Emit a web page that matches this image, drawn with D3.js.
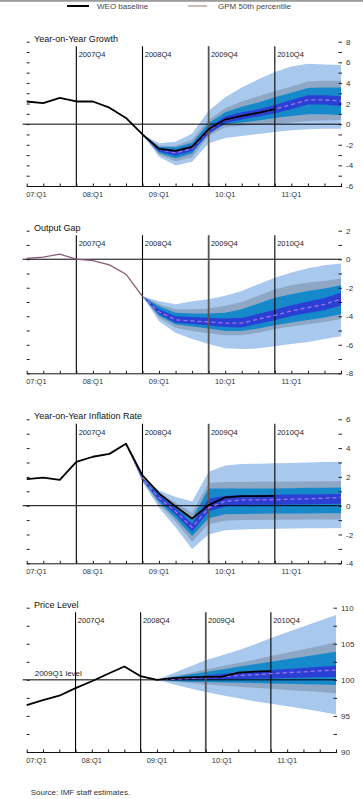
<!DOCTYPE html>
<html>
<head>
<meta charset="utf-8">
<script src="https://cdn.jsdelivr.net/npm/d3@7"></script>
<style>
  body { margin: 0; background: #fff; }
  svg { display: block; font-family: "Liberation Sans", Arial, sans-serif; }
</style>
</head>
<body>
<div id="chart"></div>
<script>
// Quarters and labels
const quarters = ["2007Q1","2007Q2","2007Q3","2007Q4","2008Q1","2008Q2","2008Q3","2008Q4",
  "2009Q1","2009Q2","2009Q3","2009Q4","2010Q1","2010Q2","2010Q3","2010Q4",
  "2011Q1","2011Q2","2011Q3","2011Q4"];
const yearQuarters = ["2007Q1","2008Q1","2009Q1","2010Q1","2011Q1"];
const yearLabels = ["07:Q1","08:Q1","09:Q1","10:Q1","11:Q1"];
const markerQuarters = ["2007Q4","2008Q4","2009Q4","2010Q4"];

// Year-on-year growth (WEO from 2007Q1, fan from 2008Q4)
const growthWeo = [2.2, 2.05, 2.55, 2.2, 2.2, 1.6, 0.6, -1.0, -2.4, -2.6, -2.2, -0.5, 0.45, 0.8, 1.1, 1.45];
const growthMed = [-1.0, -2.45, -2.8, -2.35, -0.6, 0.4, 0.8, 1.1, 1.45, 1.9, 2.35, 2.35, 2.25];
const growthHi90 = [-1.0, -1.85, -1.7, -0.9, 1.3, 2.6, 3.55, 4.35, 5.05, 5.6, 5.85, 5.8, 5.75];
const growthLo90 = [-1.0, -3.15, -4.0, -3.65, -1.85, -1.35, -1.15, -0.95, -0.75, -0.6, -0.5, -0.45, -0.45];
const growthHi70 = [-1.0, -2.1, -2.1, -1.5, 0.4, 1.55, 2.2, 2.7, 3.2, 3.65, 4.15, 4.2, 4.2];
const growthLo70 = [-1.0, -2.95, -3.6, -3.2, -1.15, -0.3, -0.15, -0.05, 0.05, 0.15, 0.3, 0.35, 0.4];
const growthHi50 = [-1.0, -2.2, -2.25, -1.8, 0.1, 1.15, 1.7, 2.1, 2.6, 3.05, 3.5, 3.55, 3.55];
const growthLo50 = [-1.0, -2.8, -3.3, -2.85, -0.85, 0.0, 0.15, 0.35, 0.6, 0.8, 0.95, 0.95, 0.9];
const growthHi30 = [-1.0, -2.3, -2.5, -2.05, -0.3, 0.75, 1.15, 1.45, 1.85, 2.35, 2.8, 2.8, 2.7];
const growthLo30 = [-1.0, -2.65, -3.05, -2.6, -0.95, 0.1, 0.45, 0.75, 1.05, 1.45, 1.9, 1.9, 1.75];

// Output gap (GPM history from 2007Q1, fan from 2008Q4)
const gapHist = [0.05, 0.15, 0.35, 0.0, -0.1, -0.4, -1.05, -2.6];
const gapMed = [-2.6, -3.7, -4.25, -4.33, -4.4, -4.48, -4.48, -4.2, -3.93, -3.62, -3.39, -3.16, -2.8];
const gapHi90 = [-2.6, -2.95, -3.15, -2.95, -2.8, -2.57, -2.22, -1.75, -1.3, -0.93, -0.63, -0.42, -0.3];
const gapLo90 = [-2.6, -4.35, -5.15, -5.6, -5.95, -6.25, -6.3, -6.25, -6.1, -5.95, -5.8, -5.6, -5.4];
const gapHi70 = [-2.6, -3.15, -3.5, -3.5, -3.45, -3.27, -3.0, -2.57, -2.1, -1.82, -1.64, -1.52, -1.36];
const gapLo70 = [-2.6, -4.1, -4.8, -5.03, -5.2, -5.33, -5.33, -5.15, -4.9, -4.72, -4.56, -4.4, -4.2];
const gapHi50 = [-2.6, -3.3, -3.75, -3.8, -3.8, -3.75, -3.5, -3.1, -2.7, -2.45, -2.22, -2.06, -1.82];
const gapLo50 = [-2.6, -3.97, -4.56, -4.72, -4.86, -5.03, -5.03, -4.86, -4.63, -4.44, -4.26, -4.09, -3.86];
const gapHi30 = [-2.6, -3.5, -4.0, -4.05, -4.1, -4.15, -4.12, -3.85, -3.55, -3.22, -2.97, -2.72, -2.35];
const gapLo30 = [-2.6, -3.85, -4.45, -4.55, -4.65, -4.75, -4.78, -4.52, -4.28, -3.98, -3.78, -3.58, -3.25];

// Year-on-year inflation (fan from 2008Q3)
const inflWeo = [1.85, 1.95, 1.8, 3.05, 3.4, 3.6, 4.3, 2.1, 0.85, -0.05, -0.9, 0.05, 0.58, 0.66, 0.66, 0.68];
const inflMed = [4.3, 1.85, 0.55, -0.4, -1.5, -0.15, 0.3, 0.4, 0.4, 0.42, 0.45, 0.48, 0.52, 0.58];
const inflHi90 = [4.3, 2.0, 1.05, 0.6, 0.3, 2.35, 2.8, 2.9, 2.92, 2.94, 2.96, 3.0, 3.03, 3.06];
const inflLo90 = [4.3, 1.65, -0.15, -1.5, -3.0, -2.0, -1.7, -1.65, -1.62, -1.6, -1.58, -1.57, -1.56, -1.55];
const inflHi70 = [4.3, 1.95, 0.9, 0.2, -0.5, 1.6, 1.65, 1.65, 1.66, 1.67, 1.68, 1.69, 1.7, 1.7];
const inflLo70 = [4.3, 1.72, 0.1, -1.1, -2.5, -1.27, -1.05, -1.0, -1.0, -0.98, -0.97, -0.96, -0.95, -0.95];
const inflHi50 = [4.3, 1.92, 0.8, 0.0, -0.9, 1.2, 1.2, 1.2, 1.2, 1.2, 1.22, 1.24, 1.25, 1.27];
const inflLo50 = [4.3, 1.77, 0.25, -0.85, -2.1, -0.87, -0.6, -0.57, -0.56, -0.55, -0.55, -0.54, -0.53, -0.52];
const inflHi30 = [4.3, 1.9, 0.7, -0.2, -1.25, 0.5, 0.68, 0.74, 0.75, 0.76, 0.77, 0.78, 0.8, 0.82];
const inflLo30 = [4.3, 1.8, 0.4, -0.6, -1.8, -0.4, -0.05, 0.05, 0.06, 0.07, 0.08, 0.1, 0.12, 0.14];

// Price level, 2009Q1 = 100 (fan from 2009Q1)
const priceWeo = [96.5, 97.2, 97.8, 98.85, 99.8, 100.85, 101.85, 100.5, 100.0, 100.25, 100.35, 100.4, 100.45, 101.0, 101.15, 101.2];
const priceMed = [100, 100.1, 100.2, 100.35, 100.45, 100.6, 100.7, 100.85, 101.0, 101.1, 101.25, 101.35];
const priceHi90 = [100, 100.9, 101.8, 102.7, 103.4, 104.1, 104.9, 105.8, 106.6, 107.4, 108.2, 109.0];
const priceLo90 = [100, 99.4, 98.85, 98.3, 97.85, 97.45, 97.05, 96.7, 96.35, 96.0, 95.6, 95.2];
const priceHi70 = [100, 100.5, 100.95, 101.45, 101.9, 102.35, 102.8, 103.3, 103.75, 104.25, 104.7, 105.2];
const priceLo70 = [100, 99.75, 99.55, 99.35, 99.2, 99.05, 98.9, 98.75, 98.6, 98.45, 98.3, 98.15];
const priceHi50 = [100, 100.4, 100.75, 101.1, 101.45, 101.8, 102.15, 102.5, 102.85, 103.2, 103.55, 103.9];
const priceLo50 = [100, 99.85, 99.75, 99.7, 99.65, 99.6, 99.55, 99.5, 99.45, 99.4, 99.35, 99.3];
const priceHi30 = [100, 100.2, 100.4, 100.6, 100.8, 101.0, 101.2, 101.35, 101.5, 101.65, 101.8, 101.95];
const priceLo30 = [100, 99.98, 99.98, 100.0, 100.05, 100.1, 100.15, 100.2, 100.25, 100.3, 100.35, 100.4];

const fanColors = ["#a8c8ee", "#8ea7c4", "#1689cb", "#2a3fd4"];

const panels = [
  { title: "Year-on-Year Growth", top: 41.7, bottom: 186, right: 341, domain: [-6, 8],
    minor: 1, major: 2, ref: 0, weo: growthWeo, fanStart: "2008Q4", med: growthMed,
    bands: [[growthLo90, growthHi90], [growthLo70, growthHi70], [growthLo50, growthHi50], [growthLo30, growthHi30]] },
  { title: "Output Gap", top: 230.7, bottom: 373.3, right: 341, domain: [-8, 2],
    minor: 1, major: 2, ref: 0, hist: gapHist, fanStart: "2008Q4", med: gapMed,
    bands: [[gapLo90, gapHi90], [gapLo70, gapHi70], [gapLo50, gapHi50], [gapLo30, gapHi30]] },
  { title: "Year-on-Year Inflation Rate", top: 419.3, bottom: 563.3, right: 341, domain: [-4, 6],
    minor: 1, major: 2, ref: 0, weo: inflWeo, fanStart: "2008Q3", med: inflMed,
    bands: [[inflLo90, inflHi90], [inflLo70, inflHi70], [inflLo50, inflHi50], [inflLo30, inflHi30]] },
  { title: "Price Level", top: 607.7, bottom: 752, right: 336, domain: [90, 110],
    minor: 2.5, major: 5, ref: 100, refLabel: "2009Q1 level", weo: priceWeo, fanStart: "2009Q1", med: priceMed,
    bands: [[priceLo90, priceHi90], [priceLo70, priceHi70], [priceLo50, priceHi50], [priceLo30, priceHi30]] }
];

const width = 363, height = 799, left = 26.7;

const svg = d3.select("#chart").append("svg")
  .attr("width", width)
  .attr("height", height);

svg.append("rect").attr("width", width).attr("height", height).attr("fill", "#fff");

// top border strip and legend
svg.append("rect").attr("x", 0).attr("y", 0).attr("width", width).attr("height", 1.8).attr("fill", "#9c9c9c");
svg.append("line").attr("x1", 67).attr("x2", 89).attr("y1", 6).attr("y2", 6)
  .attr("stroke", "#000").attr("stroke-width", 2);
svg.append("text").attr("x", 97).attr("y", 8.6).attr("font-size", 8).attr("fill", "#444").text("WEO baseline");
svg.append("line").attr("x1", 188).attr("x2", 207).attr("y1", 6).attr("y2", 6)
  .attr("stroke", "#b49494").attr("stroke-width", 1.3);
svg.append("text").attr("x", 218).attr("y", 8.6).attr("font-size", 8).attr("fill", "#444").text("GPM 50th percentile");

panels.forEach(p => {
  const x = d3.scalePoint().domain(quarters).range([left, p.right]);
  const y = d3.scaleLinear().domain(p.domain).range([p.bottom, p.top]);
  const g = svg.append("g");

  const startIdx = quarters.indexOf(p.fanStart);
  const fanQ = quarters.slice(startIdx, startIdx + p.med.length);

  // Fan bands
  p.bands.forEach((b, k) => {
    const area = d3.area()
      .x((d, i) => x(fanQ[i]))
      .y0((d, i) => y(b[0][i]))
      .y1((d, i) => y(b[1][i]));
    g.append("path").datum(b[0]).attr("d", area).attr("fill", fanColors[k]);
  });

  // Reference line
  g.append("line")
    .attr("x1", left - 4).attr("x2", p.right)
    .attr("y1", y(p.ref)).attr("y2", y(p.ref))
    .attr("stroke", "#000").attr("stroke-width", 1);
  if (p.refLabel) {
    g.append("text").attr("x", 34.7).attr("y", y(p.ref) - 3.8)
      .attr("font-size", 8).attr("fill", "#222").text(p.refLabel);
  }

  // Vertical marker lines
  markerQuarters.forEach(q => {
    const grey = q === "2009Q4";
    g.append("line")
      .attr("x1", x(q)).attr("x2", x(q))
      .attr("y1", p.top + 4.5).attr("y2", p.bottom)
      .attr("stroke", grey ? "#555" : "#000")
      .attr("stroke-width", grey ? 1.8 : 1.1);
    g.append("text")
      .attr("x", x(q) + 2.3).attr("y", p.top + 15.2)
      .attr("font-size", 7.5).attr("fill", "#222").text(q);
  });

  // Median of the fan (GPM 50th percentile)
  const line = d3.line().x(d => x(d[0])).y(d => y(d[1]));
  g.append("path")
    .datum(fanQ.map((q, i) => [q, p.med[i]]))
    .attr("d", line).attr("fill", "none")
    .attr("stroke", "#a574e4").attr("stroke-width", 1.3)
    .attr("stroke-dasharray", "4,3");

  if (p.hist) {
    g.append("path")
      .datum(p.hist.map((v, i) => [quarters[i], v]))
      .attr("d", line).attr("fill", "none")
      .attr("stroke", "#8a5a78").attr("stroke-width", 1.3);
  }
  if (p.weo) {
    g.append("path")
      .datum(p.weo.map((v, i) => [quarters[i], v]))
      .attr("d", line).attr("fill", "none")
      .attr("stroke", "#000").attr("stroke-width", 1.8)
      .attr("stroke-linejoin", "round");
  }

  // Left ticks (no labels)
  const minorTicks = d3.range(p.domain[0], p.domain[1] + 0.001, p.minor);
  const leftAxis = d3.axisLeft(y).tickValues(minorTicks).tickSize(-3).tickFormat("");
  g.append("g").attr("transform", `translate(${left},0)`).call(leftAxis)
    .call(a => a.select(".domain").remove())
    .call(a => a.selectAll("line").attr("stroke", "#222"));

  // Right ticks with labels
  const rightAxis = d3.axisRight(y).tickValues(minorTicks).tickSize(-3.5).tickPadding(4)
    .tickFormat(d => Math.abs(d / p.major - Math.round(d / p.major)) < 1e-6 ? d : "");
  g.append("g").attr("transform", `translate(${p.right + 1},0)`).call(rightAxis)
    .call(a => a.select(".domain").remove())
    .call(a => a.selectAll("line").attr("stroke", "#222"))
    .call(a => a.selectAll("text").attr("font-size", 8).attr("fill", "#333")
      .attr("font-family", '"Liberation Sans", Arial, sans-serif'));

  // Bottom axis with quarterly ticks
  const bottomAxis = d3.axisBottom(x).tickSizeInner(-2.5).tickSizeOuter(0).tickFormat("");
  g.append("g").attr("transform", `translate(0,${p.bottom})`).call(bottomAxis)
    .call(a => a.selectAll("line, path").attr("stroke", "#111"));

  yearQuarters.forEach((q, i) => {
    g.append("text")
      .attr("x", i === 0 ? x(q) - 0.5 : x(q))
      .attr("y", p.bottom + 11)
      .attr("text-anchor", i === 0 ? "start" : "middle")
      .attr("font-size", 7.5).attr("fill", "#333")
      .text(yearLabels[i]);
  });

  // Title
  g.append("text").attr("x", 34).attr("y", p.top)
    .attr("font-size", 9).attr("fill", "#111").text(p.title);
});

svg.append("text").attr("x", 30.7).attr("y", 794.5)
  .attr("font-size", 8).attr("fill", "#333").text("Source: IMF staff estimates.");
</script>
</body>
</html>
